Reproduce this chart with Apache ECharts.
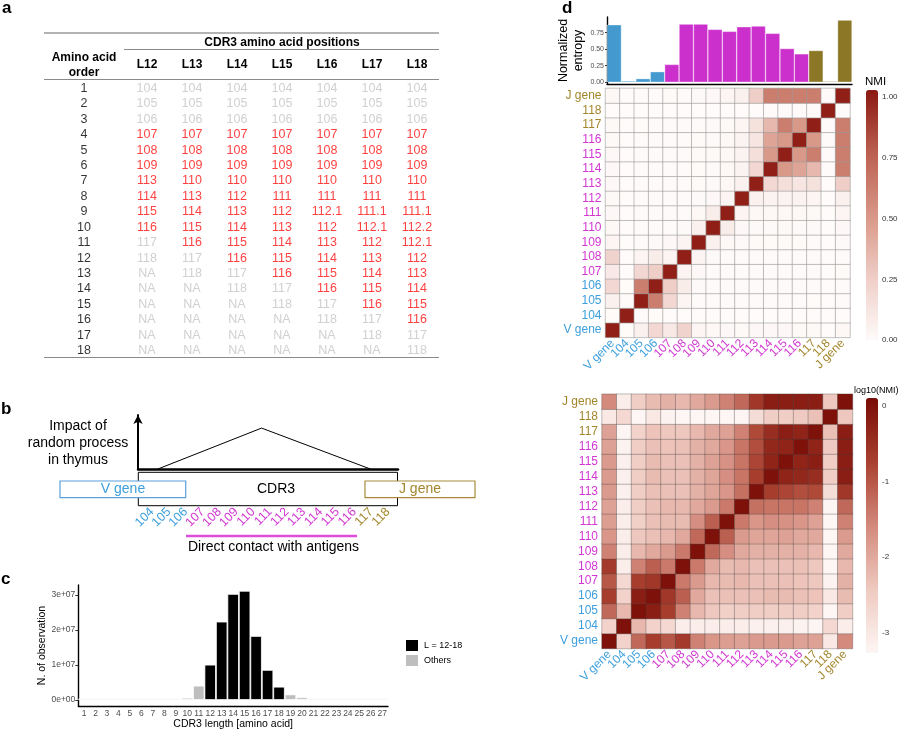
<!DOCTYPE html>
<html><head><meta charset="utf-8">
<script src="https://cdn.jsdelivr.net/npm/echarts@6/dist/echarts.min.js"></script>
<style>html,body{margin:0;padding:0;background:#fff}#c{width:900px;height:729px}</style>
</head><body><div id="c"></div>
<script>
// ================= DATA =================
// Panel a: CDR3 amino-acid position table
const tableHeaders = ['L12','L13','L14','L15','L16','L17','L18'];
const aminoAcidOrder = ['1','2','3','4','5','6','7','8','9','10','11','12','13','14','15','16','17','18'];
const posL12 = ['104','105','106','107','108','109','113','114','115','116','117','118','NA','NA','NA','NA','NA','NA'];
const posL13 = ['104','105','106','107','108','109','110','113','114','115','116','117','118','NA','NA','NA','NA','NA'];
const posL14 = ['104','105','106','107','108','109','110','112','113','114','115','116','117','118','NA','NA','NA','NA'];
const posL15 = ['104','105','106','107','108','109','110','111','112','113','114','115','116','117','118','NA','NA','NA'];
const posL16 = ['104','105','106','107','108','109','110','111','112.1','112','113','114','115','116','117','118','NA','NA'];
const posL17 = ['104','105','106','107','108','109','110','111','111.1','112.1','112','113','114','115','116','117','118','NA'];
const posL18 = ['104','105','106','107','108','109','110','111','111.1','112.2','112.1','112','113','114','115','116','117','118'];

// Panel b: schematic
const positionLabels = ['104','105','106','107','108','109','110','111','112','113','114','115','116','117','118'];
const positionGroups = ['V','V','V','C','C','C','C','C','C','C','C','C','C','J','J'];
const impactX = [104.35, 110.5, 116.95];
const impactY = [0, 1, 0];

// Panel c: CDR3 length histogram
const lengthLabels = ['1','2','3','4','5','6','7','8','9','10','11','12','13','14','15','16','17','18','19','20','21','22','23','24','25','26','27'];
const lengthCounts = [1e4,2e4,3e4,5e4,6e4,8e4,1.2e5,1.8e5,3.2e5,6.5e5,4.1e6,1.01e7,2.24e7,3.03e7,3.12e7,1.83e7,8.6e6,3.8e6,1.6e6,7.7e5,3.5e5,2.4e5,1.1e5,7e4,5e4,3e4,2e4];
const lengthMin = 12, lengthMax = 18;

// Panel d
const nmiLabels = ['V gene','104','105','106','107','108','109','110','111','112','113','114','115','116','117','118','J gene'];
const nmiGroups = ['V','V','V','V','C','C','C','C','C','C','C','C','C','C','J','J','J'];
const entropy = [0.87,0.02,0.055,0.16,0.27,0.88,0.88,0.80,0.77,0.84,0.85,0.74,0.51,0.43,0.48,0.015,0.94];
// log10(NMI); rows = y category (V gene at bottom ... J gene at top), cols = x category
const log10NMI = [
 [0,-2.6,-1.2,-0.7,-1.0,-0.65,-1.5,-1.75,-1.85,-1.9,-1.8,-1.8,-1.8,-1.9,-1.9,-3.0,-1.6],
 [-2.6,0,-2.2,-2.6,-2.7,-3.1,-3.1,-3.1,-3.1,-3.1,-3.15,-3.15,-3.15,-3.2,-3.25,-2.7,-3.1],
 [-1.2,-2.2,0,-0.2,-0.7,-1.5,-2.2,-2.4,-2.55,-2.5,-2.5,-2.5,-2.5,-2.5,-2.6,-3.3,-2.5],
 [-0.7,-2.6,-0.2,0,-0.6,-1.1,-2.0,-2.3,-2.3,-2.3,-2.3,-2.25,-2.25,-2.3,-2.35,-3.0,-2.25],
 [-1.0,-2.7,-0.7,-0.6,0,-1.4,-1.8,-2.2,-2.25,-2.2,-2.3,-2.3,-2.3,-2.35,-2.4,-3.2,-2.1],
 [-0.65,-3.1,-1.5,-1.1,-1.4,0,-1.4,-2.0,-2.25,-2.2,-2.3,-2.3,-2.3,-2.3,-2.4,-3.3,-2.2],
 [-1.5,-3.1,-2.2,-2.0,-1.8,-1.4,0,-1.2,-1.65,-2.0,-2.1,-2.1,-2.1,-2.1,-2.2,-3.3,-2.0],
 [-1.75,-3.1,-2.4,-2.3,-2.2,-2.0,-1.2,0,-1.1,-1.8,-1.95,-1.95,-1.9,-2.0,-2.0,-3.3,-1.8],
 [-1.85,-3.1,-2.55,-2.3,-2.25,-2.25,-1.65,-1.1,0,-1.4,-1.75,-1.65,-1.7,-1.75,-1.9,-3.3,-1.5],
 [-1.9,-3.1,-2.5,-2.3,-2.2,-2.2,-2.0,-1.8,-1.4,0,-1.3,-1.35,-1.35,-1.35,-1.5,-3.25,-1.2],
 [-1.8,-3.15,-2.5,-2.3,-2.3,-2.3,-2.1,-1.95,-1.75,-1.3,0,-0.7,-0.8,-0.9,-0.85,-2.8,-0.6],
 [-1.8,-3.15,-2.5,-2.25,-2.3,-2.3,-2.1,-1.95,-1.65,-1.35,-0.7,0,-0.3,-0.35,-0.45,-2.5,-0.2],
 [-1.8,-3.15,-2.5,-2.25,-2.3,-2.3,-2.1,-1.9,-1.7,-1.35,-0.8,-0.3,0,-0.3,-0.2,-2.5,-0.2],
 [-1.9,-3.2,-2.5,-2.3,-2.35,-2.3,-2.1,-2.0,-1.75,-1.35,-0.9,-0.35,-0.3,0,-0.3,-2.45,-0.2],
 [-1.9,-3.25,-2.6,-2.35,-2.4,-2.4,-2.2,-2.0,-1.9,-1.5,-0.85,-0.45,-0.2,-0.3,0,-2.3,-0.2],
 [-3.0,-2.7,-3.3,-3.0,-3.2,-3.3,-3.3,-3.3,-3.3,-3.25,-2.8,-2.5,-2.5,-2.45,-2.3,0,-2.4],
 [-1.6,-3.1,-2.5,-2.25,-2.1,-2.2,-2.0,-1.8,-1.5,-1.2,-0.6,-0.2,-0.2,-0.2,-0.2,-2.4,0]
];

// ================= STYLE =================
const FONT = 'Liberation Sans, Arial, sans-serif';
const labelColor = {V:'#3d9fdc', C:'#d237d2', J:'#a3862c'};
const barColor = {V:'#4499cf', C:'#cc30cc', J:'#8b7726'};
const RED = '#ff1010', GRAY = '#c4c4c4';

// ================= BUILD =================
const tableCols = [posL12,posL13,posL14,posL15,posL16,posL17,posL18];
const tableData = [];
tableCols.forEach((col, c) => col.forEach((txt, r) => {
  const n = parseFloat(txt);
  const core = !isNaN(n) && n >= 107 && n < 117;
  tableData.push({value:[c, r, txt], label:{color: core ? RED : GRAY}});
}));
const orderData = aminoAcidOrder.map((t, r) => ({value:[0, r, t]}));

const inRangeSeries = lengthCounts.map((v, i) => (+lengthLabels[i] >= lengthMin && +lengthLabels[i] <= lengthMax) ? v : null);
const otherSeries = lengthCounts.map((v, i) => (+lengthLabels[i] >= lengthMin && +lengthLabels[i] <= lengthMax) ? null : v);

const topData = [], botData = [];
for (let i = 0; i < nmiLabels.length; i++) for (let j = 0; j < nmiLabels.length; j++) {
  botData.push([j, i, log10NMI[i][j]]);
  topData.push([j, i, Math.pow(10, log10NMI[i][j])]);
}
const nmiColorFn = (val) => labelColor[nmiGroups[nmiLabels.indexOf(val)]];
const posColorFn = (val) => labelColor[positionGroups[positionLabels.indexOf(val)]];

function catAxis(gi, data, extra) { return Object.assign({type:'category', gridIndex:gi, data:data}, extra); }

const gridBase = {outerBoundsMode:'none', containLabel:false};
const grids = [
  {left:124.5, width:315, top:80.6, height:277.9},     // 0 table values
  {left:61.5, width:45, top:80.6, height:277.9},       // 1 table order
  {left:138, width:260, top:415, height:54},           // 2 triangle
  {left:143.6, width:252.9, top:470, height:37},       // 3 positions
  {left:78.3, width:309.7, top:585, height:121},       // 4 histogram
  {left:607, width:245, top:17, height:67},            // 5 entropy
  {left:605.5, width:244.5, top:88.4, height:249},     // 6 top heatmap
  {left:602, width:250.5, top:394.2, height:254.3},    // 7 bottom heatmap
  {left:866, width:12, top:90, height:250},            // 8 colorbar NMI labels
  {left:866, width:12, top:398, height:255}            // 9 colorbar log labels
].map(g => Object.assign({}, gridBase, g));

const heatX = (gi) => catAxis(gi, nmiLabels, {
  axisLine:{show:false}, axisTick:{alignWithLabel:true, length:3, lineStyle:{color:'#333'}},
  axisLabel:{rotate:45, fontSize:12, margin:4, fontFamily:FONT, color:nmiColorFn, interval:0},
  splitLine:{show:false}
});
const heatY = (gi) => catAxis(gi, nmiLabels, {
  axisLine:{show:false}, axisTick:{alignWithLabel:true, length:3, lineStyle:{color:'#333'}},
  axisLabel:{fontSize:12, margin:4, fontFamily:FONT, color:nmiColorFn, interval:0},
  splitLine:{show:false}
});

const xAxes = [
  catAxis(0, tableHeaders, {position:'top', axisLine:{show:false}, axisTick:{show:false},
    axisLabel:{fontSize:12, fontWeight:'bold', color:'#000', margin:10, fontFamily:FONT},
    name:'CDR3 amino acid positions', nameLocation:'middle', nameGap:31.5,
    nameTextStyle:{fontSize:12, fontWeight:'bold', color:'#000', fontFamily:FONT}}),
  catAxis(1, ['order'], {position:'top', axisLine:{show:false}, axisTick:{show:false}, axisLabel:{show:false},
    name:'Amino acid\norder', nameLocation:'middle', nameGap:0,
    nameTextStyle:{fontSize:12, fontWeight:'bold', color:'#000', lineHeight:15, fontFamily:FONT}}),
  {type:'value', gridIndex:2, min:103.17, max:118.59, axisLine:{show:true, onZero:false, lineStyle:{color:'#000', width:2.5}},
    axisTick:{show:false}, axisLabel:{show:false}, splitLine:{show:false}},
  catAxis(3, positionLabels, {axisLine:{show:false}, axisTick:{alignWithLabel:true, length:2, lineStyle:{color:'#555', width:1.5}},
    axisLabel:{rotate:45, fontSize:12.5, margin:3, fontFamily:FONT, color:posColorFn, interval:0}}),
  catAxis(4, lengthLabels, {axisLine:{onZero:false, lineStyle:{color:'#000', width:1.4}},
    axisTick:{alignWithLabel:true, length:3, lineStyle:{color:'#333'}},
    axisLabel:{fontSize:8.5, color:'#4d4d4d', margin:3, interval:0, fontFamily:FONT},
    name:'CDR3 length [amino acid]', nameLocation:'middle', nameGap:13,
    nameTextStyle:{fontSize:10.5, color:'#000', fontFamily:FONT}}),
  catAxis(5, nmiLabels, {axisLine:{onZero:false, lineStyle:{color:'#000', width:1.4}},
    axisTick:{alignWithLabel:true, length:2, lineStyle:{color:'#333'}}, axisLabel:{show:false}}),
  heatX(6),
  heatX(7),
  {type:'value', gridIndex:8, show:false},
  {type:'value', gridIndex:9, show:false}
];

const yAxes = [
  catAxis(0, aminoAcidOrder, {inverse:true, show:false}),
  catAxis(1, aminoAcidOrder, {inverse:true, show:false}),
  {type:'value', gridIndex:2, min:0, max:1.32, axisLine:{show:true, onZero:false, symbol:['none','arrow'], symbolSize:[7,9], lineStyle:{color:'#000', width:2}},
    axisTick:{show:false}, axisLabel:{show:false}, splitLine:{show:false}},
  {type:'value', gridIndex:3, show:false},
  {type:'value', gridIndex:4, min:-1.714e6, max:3.286e7, axisLine:{show:true, lineStyle:{color:'#000', width:1.4}},
    axisTick:{show:true, length:3, customValues:[0,1e7,2e7,3e7], lineStyle:{color:'#333'}},
    axisLabel:{customValues:[0,1e7,2e7,3e7], fontSize:8.5, color:'#4d4d4d', margin:3, fontFamily:FONT,
      formatter:v => v === 0 ? '0e+00' : Math.round(v/1e7) + 'e+07'},
    splitLine:{show:false},
    name:'N. of observation', nameLocation:'middle', nameRotate:90, nameGap:30,
    nameTextStyle:{fontSize:10.5, color:'#000', fontFamily:FONT}},
  {type:'value', gridIndex:5, min:-0.026, max:0.987, axisLine:{show:true, lineStyle:{color:'#000', width:1.4}},
    axisTick:{show:true, length:2, customValues:[0,0.25,0.5,0.75], lineStyle:{color:'#333'}},
    axisLabel:{customValues:[0,0.25,0.5,0.75], fontSize:7, color:'#4d4d4d', margin:3, fontFamily:FONT, formatter:v => v.toFixed(2)},
    splitLine:{show:false},
    name:'Normalized\nentropy', nameLocation:'middle', nameRotate:90, nameGap:17,
    nameTextStyle:{fontSize:12.5, color:'#000', lineHeight:15, fontFamily:FONT}},
  heatY(6),
  heatY(7),
  {type:'value', gridIndex:8, min:0, max:1.03, position:'right', axisLine:{show:false},
    axisTick:{show:false}, splitLine:{show:false},
    axisLabel:{customValues:[0,0.25,0.5,0.75,1], formatter:v => v.toFixed(2), fontSize:8, color:'#333', margin:4, fontFamily:FONT}},
  {type:'value', gridIndex:9, min:-3.265, max:0.105, position:'right', axisLine:{show:false},
    axisTick:{show:false}, splitLine:{show:false},
    axisLabel:{customValues:[-3,-2,-1,0], formatter:v => String(v), fontSize:8, color:'#333', margin:4, fontFamily:FONT}}
];

const series = [
  {type:'scatter', xAxisIndex:0, yAxisIndex:0, data:tableData, symbolSize:1, itemStyle:{color:'rgba(0,0,0,0)'},
    label:{show:true, position:'inside', formatter:p => p.value[2], fontSize:12.5, fontFamily:FONT}, silent:true},
  {type:'scatter', xAxisIndex:1, yAxisIndex:1, data:orderData, symbolSize:1, itemStyle:{color:'rgba(0,0,0,0)'},
    label:{show:true, position:'inside', formatter:p => p.value[2], fontSize:12.5, color:'#000', fontFamily:FONT}, silent:true},
  {type:'line', xAxisIndex:2, yAxisIndex:2, data:impactX.map((x, i) => [x, impactY[i]]), symbol:'none',
    lineStyle:{color:'#000', width:1}, silent:true},
  {type:'bar', name:'L = 12-18', xAxisIndex:4, yAxisIndex:4, data:inRangeSeries, barGap:'-100%', barCategoryGap:'0%',
    itemStyle:{color:'#000', borderColor:'#fff', borderWidth:0.8}},
  {type:'bar', name:'Others', xAxisIndex:4, yAxisIndex:4, data:otherSeries, barGap:'-100%', barCategoryGap:'0%', barMinHeight:1.5,
    itemStyle:{color:'#bebebe', borderColor:'#fff', borderWidth:0.8}},
  {type:'bar', xAxisIndex:5, yAxisIndex:5, data:entropy, barCategoryGap:'0%',
    itemStyle:{color:p => barColor[nmiGroups[p.dataIndex]], borderColor:'rgba(255,255,255,0.7)', borderWidth:0.5}},
  {type:'heatmap', xAxisIndex:6, yAxisIndex:6, data:topData,
    itemStyle:{borderColor:'#9a9a9a', borderWidth:0.6}, emphasis:{disabled:true}},
  {type:'heatmap', xAxisIndex:7, yAxisIndex:7, data:botData,
    itemStyle:{borderColor:'rgba(60,60,60,0.55)', borderWidth:0.6}, emphasis:{disabled:true}}
];

const txt = (text, x, y, o) => ({type:'text', x:x, y:y, silent:true, z:20,
  style:Object.assign({text:text, fill:'#000', font:'14px ' + FONT, align:'left', verticalAlign:'middle'}, o || {})});
const line = (x1, y1, x2, y2, stroke, w) => ({type:'line', silent:true, z:20, shape:{x1:x1, y1:y1, x2:x2, y2:y2}, style:{stroke:stroke, lineWidth:w}});
const rect = (x, y, w, h, stroke, z) => ({type:'rect', silent:true, z:z, shape:{x:x, y:y, width:w, height:h}, style:{fill:'#fff', stroke:stroke, lineWidth:1.2}});

const graphics = [
  txt('a', 2, 8, {font:'bold 17px ' + FONT}),
  txt('b', 1, 409, {font:'bold 17px ' + FONT}),
  txt('c', 1, 579, {font:'bold 17px ' + FONT}),
  txt('d', 562, 8, {font:'bold 17px ' + FONT}),
  // table rules
  line(44, 33, 439, 33, '#9a9a9a', 1.5),
  line(124, 49.5, 439, 49.5, '#8a8a8a', 1),
  line(44, 79.5, 439, 79.5, '#8a8a8a', 1),
  line(44, 357.5, 439, 357.5, '#8a8a8a', 1),
  // panel b
  Object.assign(rect(138.3, 472.3, 259.2, 33.4, '#000', 15), {style:{fill:'none', stroke:'#000', lineWidth:1}}),
  rect(60, 481, 125.7, 16.7, '#5b9fdc', 16),
  rect(365, 481, 110, 16.7, '#a88c3c', 16),
  txt('V gene', 123, 489.5, {fill:labelColor.V, align:'center'}),
  txt('CDR3', 276, 489.5, {align:'center'}),
  txt('J gene', 420, 489.5, {fill:labelColor.J, align:'center'}),
  txt('Impact of\nrandom process\nin thymus', 78, 443, {align:'center', lineHeight:17}),
  line(186, 536, 357, 536, '#dc4ddc', 2.5),
  txt('Direct contact with antigens', 273.5, 547, {align:'center'}),
  // colorbar titles
  txt('NMI', 865, 82, {font:'11.5px ' + FONT}),
  txt('log10(NMI)', 854, 391, {font:'9px ' + FONT})
];

const option = {
  animation:false,
  textStyle:{fontFamily:FONT},
  grid:grids,
  xAxis:xAxes,
  yAxis:yAxes,
  legend:{data:['L = 12-18','Others'], orient:'vertical', left:404, top:638, itemWidth:14, itemHeight:13, itemGap:0,
    padding:0, icon:'rect', selectedMode:false, textStyle:{fontSize:9, color:'#000', fontFamily:FONT}},
  visualMap:[
    {type:'continuous', seriesIndex:6, dimension:2, min:0, max:1.03, calculable:false, show:true,
      left:866, top:90, itemWidth:12, itemHeight:250, padding:0, hoverLink:false,
      inRange:{color:['#fefbfa','#efcdc6','#d89686','#bb5f50','#8a1810']}},
    {type:'continuous', seriesIndex:7, dimension:2, min:-3.265, max:0.105, calculable:false, show:true,
      left:866, top:398, itemWidth:12, itemHeight:255, padding:0, hoverLink:false,
      inRange:{color:['#fdf6f4','#efc9c0','#d3897b','#a9402f','#780b05']}}
  ],
  series:series,
  graphic:{elements:graphics}
};
echarts.init(document.getElementById('c'), null, {renderer:'canvas'}).setOption(option);
</script></body></html>
